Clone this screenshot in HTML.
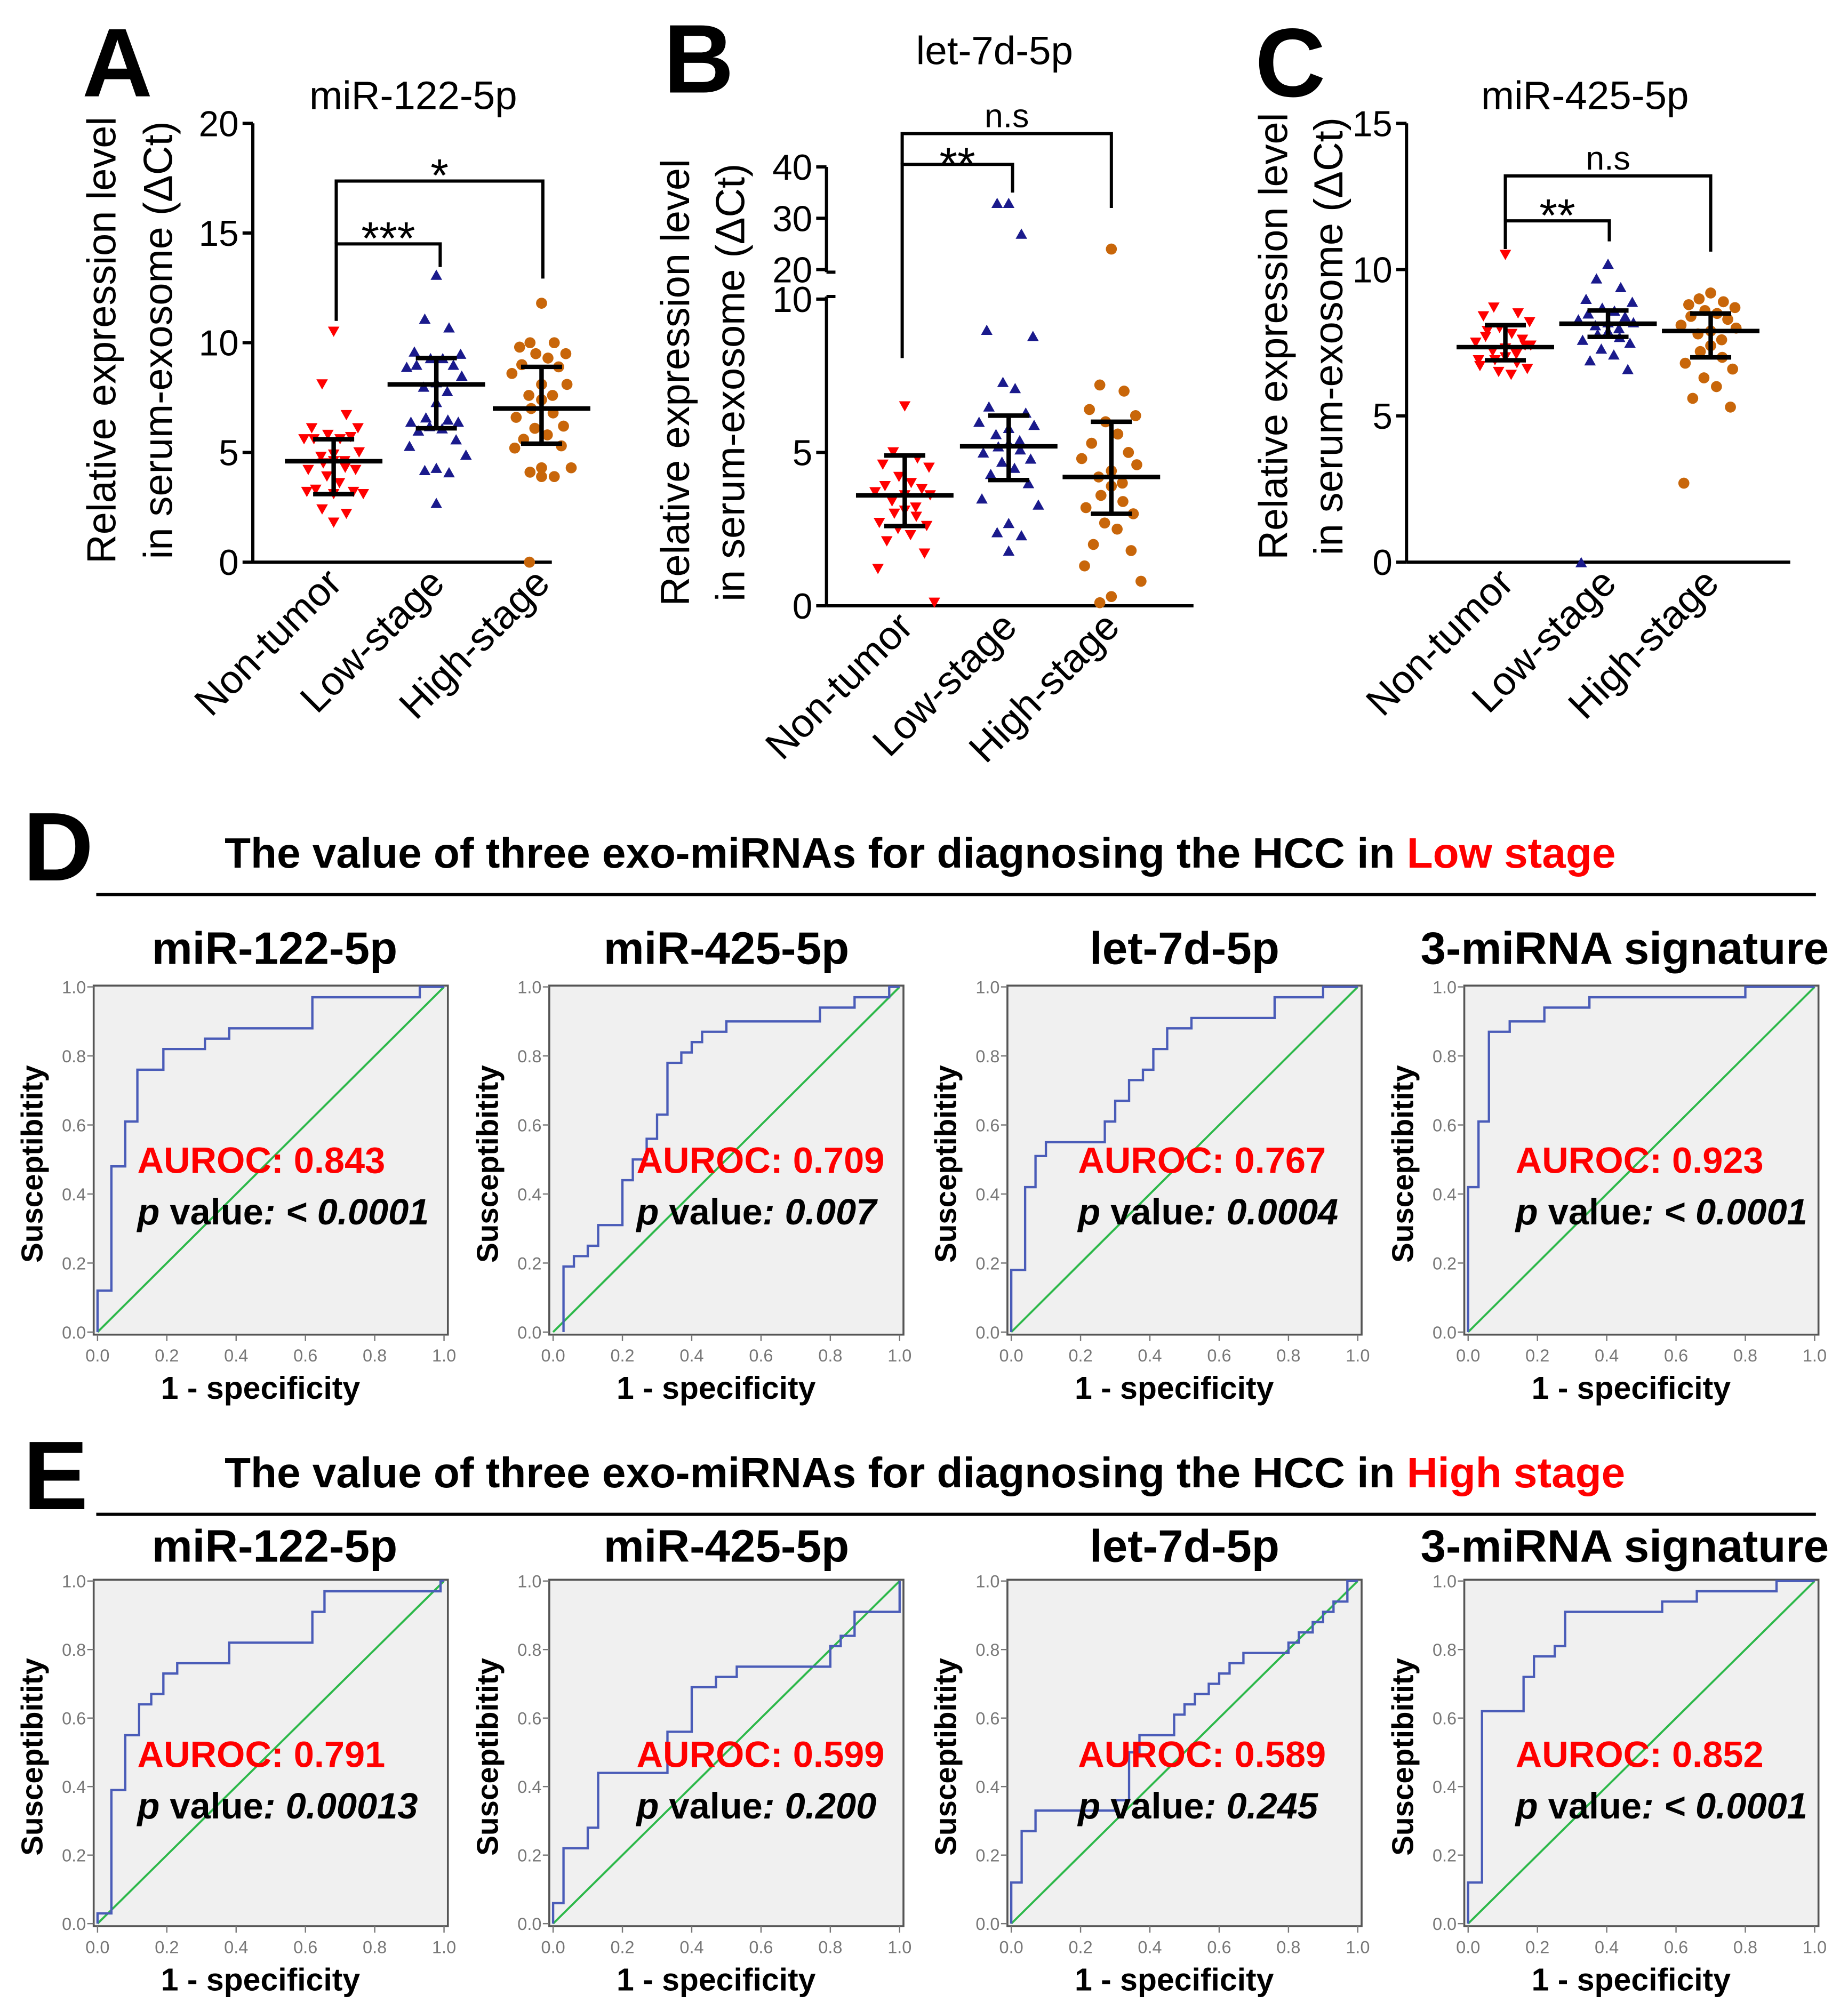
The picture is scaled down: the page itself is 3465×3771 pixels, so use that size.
<!DOCTYPE html>
<html><head><meta charset="utf-8">
<style>
html,body{margin:0;padding:0;background:#fff;}
svg{display:block;font-family:"Liberation Sans",Arial,sans-serif;}
</style></head>
<body>
<svg id="fig" width="3465" height="3771" viewBox="0 0 1440 1567" xmlns="http://www.w3.org/2000/svg">
<rect width="1440" height="1567" fill="#fff"/>
</svg>
<script>
// ---------- scatter data ----------
const groups = ['Non-tumor','Low-stage','High-stage'];
const aNon = [10.5,8.1,6.7,6.1,6.1,5.8,5.6,5.6,5.7,5.6,5.0,4.9,4.8,4.6,4.6,4.5,4.3,4.2,4.2,3.9,3.6,3.3,3.2,3.2,3.1,3.1,2.4,2.2,1.8];
const aLow = [13.1,11.1,10.7,9.6,9.5,9.3,9.3,9.0,9.0,8.9,8.5,8.2,8.0,7.8,7.3,6.6,6.5,6.4,6.4,6.2,6.1,6.0,5.6,5.3,4.9,4.3,4.2,4.1,2.7];
const aHigh = [11.8,10.0,10.0,9.8,9.5,9.5,9.3,9.0,8.9,8.6,8.1,8.1,7.6,7.6,7.4,7.0,6.8,6.6,6.2,6.1,5.8,5.6,5.3,5.2,4.3,4.3,4.1,3.9,3.9,0];
const aMean = [4.6,8.1,7.0];
const aLo = [3.1,6.1,5.4];
const aHi = [5.6,9.3,8.9];
const bNon = [6.5,5.0,4.8,4.6,4.5,4.2,4.0,3.9,3.8,3.7,3.6,3.6,3.4,3.2,3.1,3.0,2.9,2.7,2.6,2.5,2.3,2.1,1.7,1.2,0.1];
const bLow = [33,33,27,9.0,8.8,7.3,7.1,6.5,6.3,6.0,5.9,5.8,5.6,5.4,5.3,5.2,5.1,5.0,4.8,4.7,4.5,4.3,4.0,3.5,3.3,2.7,2.4,2.3,1.8];
const bHigh = [24,7.2,7.0,6.4,6.2,6.0,5.6,5.3,5.0,4.8,4.6,4.4,4.2,4.0,3.9,3.6,3.4,3.2,3.0,2.7,2.5,2.0,1.8,1.3,0.8,0.3,0.1];
const bMean = [3.6,5.2,4.2];
const bLo = [2.6,4.1,3.0];
const bHi = [4.9,6.2,6.0];
const cNon = [10.5,8.7,8.5,8.4,8.2,8.0,7.8,7.7,7.6,7.5,7.4,7.3,7.2,7.1,7.0,6.9,6.8,6.7,6.6,6.5,6.4,7.9,7.4,6.9];
const cLow = [10.2,9.7,9.4,9.0,8.9,8.7,8.6,8.5,8.4,8.3,8.2,8.2,8.1,8.0,7.9,7.8,7.7,7.6,7.5,7.3,7.1,6.9,6.6,0];
const cHigh = [9.2,9.0,8.9,8.8,8.7,8.6,8.5,8.4,8.3,8.1,8.0,7.9,7.8,7.6,7.4,7.2,7.0,6.8,6.6,6.3,6.0,5.6,5.3,2.7];
const cMean = [7.35,8.15,7.9];
const cLo = [6.9,7.7,7.0];
const cHi = [8.1,8.6,8.5];
const aTicks = [0,5,10,15,20];
const bTicksLow = [0,5,10];
const bTicksHigh = [20,30,40];
const cTicks = [0,5,10,15];

// ---------- ROC data ----------
const rocTitles = ['miR-122-5p','miR-425-5p','let-7d-5p','3-miRNA signature'];
const aurocLow = ['0.843','0.709','0.767','0.923'];
const pLow = ['< 0.0001','0.007','0.0004','< 0.0001'];
const aurocHigh = ['0.791','0.599','0.589','0.852'];
const pHigh = ['0.00013','0.200','0.245','< 0.0001'];
const rocTicks = ['0.0','0.2','0.4','0.6','0.8','1.0'];
const d1x=[0,0,0.04,0.04,0.08,0.08,0.115,0.115,0.19,0.19,0.31,0.31,0.38,0.38,0.62,0.62,0.93,0.93,1];
const d1y=[0,0.12,0.12,0.48,0.48,0.61,0.61,0.76,0.76,0.82,0.82,0.85,0.85,0.88,0.88,0.97,0.97,1,1];
const d2x=[0.03,0.03,0.06,0.06,0.1,0.1,0.13,0.13,0.2,0.2,0.23,0.23,0.27,0.27,0.3,0.3,0.33,0.33,0.37,0.37,0.4,0.4,0.43,0.43,0.5,0.5,0.77,0.77,0.87,0.87,0.97,0.97,1];
const d2y=[0,0.19,0.19,0.22,0.22,0.25,0.25,0.31,0.31,0.44,0.44,0.5,0.5,0.56,0.56,0.63,0.63,0.78,0.78,0.81,0.81,0.84,0.84,0.87,0.87,0.9,0.9,0.94,0.94,0.97,0.97,1,1];
const d3x=[0,0,0.04,0.04,0.07,0.07,0.1,0.1,0.27,0.27,0.3,0.3,0.34,0.34,0.38,0.38,0.41,0.41,0.45,0.45,0.52,0.52,0.76,0.76,0.9,0.9,1];
const d3y=[0,0.18,0.18,0.42,0.42,0.51,0.51,0.55,0.55,0.61,0.61,0.67,0.67,0.73,0.73,0.76,0.76,0.82,0.82,0.88,0.88,0.91,0.91,0.97,0.97,1,1];
const d4x=[0,0,0.03,0.03,0.06,0.06,0.12,0.12,0.22,0.22,0.35,0.35,0.8,0.8,1];
const d4y=[0,0.42,0.42,0.61,0.61,0.87,0.87,0.9,0.9,0.94,0.94,0.97,0.97,1,1];
const e1x=[0,0,0.04,0.04,0.08,0.08,0.12,0.12,0.155,0.155,0.19,0.19,0.23,0.23,0.38,0.38,0.62,0.62,0.655,0.655,0.99,0.99,1];
const e1y=[0,0.03,0.03,0.39,0.39,0.55,0.55,0.64,0.64,0.67,0.67,0.73,0.73,0.76,0.76,0.82,0.82,0.91,0.91,0.97,0.97,1,1];
const e2x=[0,0,0.03,0.03,0.1,0.1,0.13,0.13,0.33,0.33,0.4,0.4,0.47,0.47,0.53,0.53,0.8,0.8,0.83,0.83,0.87,0.87,1,1];
const e2y=[0,0.06,0.06,0.22,0.22,0.28,0.28,0.44,0.44,0.56,0.56,0.69,0.69,0.72,0.72,0.75,0.75,0.81,0.81,0.84,0.84,0.91,0.91,1];
const e3x=[0,0,0.03,0.03,0.07,0.07,0.3,0.3,0.34,0.34,0.37,0.37,0.47,0.47,0.5,0.5,0.53,0.53,0.57,0.57,0.6,0.6,0.63,0.63,0.67,0.67,0.8,0.8,0.83,0.83,0.87,0.87,0.9,0.9,0.93,0.93,0.97,0.97,1];
const e3y=[0,0.12,0.12,0.27,0.27,0.33,0.33,0.36,0.36,0.5,0.5,0.55,0.55,0.61,0.61,0.64,0.64,0.67,0.67,0.7,0.7,0.73,0.73,0.76,0.76,0.79,0.79,0.82,0.82,0.85,0.85,0.88,0.88,0.91,0.91,0.94,0.94,1,1];
const e4x=[0,0,0.04,0.04,0.16,0.16,0.19,0.19,0.25,0.25,0.28,0.28,0.56,0.56,0.66,0.66,0.89,0.89,1];
const e4y=[0,0.12,0.12,0.62,0.62,0.72,0.72,0.78,0.78,0.81,0.81,0.91,0.91,0.94,0.94,0.97,0.97,1,1];

const NS='http://www.w3.org/2000/svg';
const svg=document.getElementById('fig');
function mk(tag,attrs,parent,text){const e=document.createElementNS(NS,tag);for(const k in attrs)e.setAttribute(k,attrs[k]);if(text!==undefined)e.textContent=text;(parent||svg).appendChild(e);return e;}
function line(x1,y1,x2,y2,st,sw,p){return mk('line',{x1,y1,x2,y2,stroke:st,'stroke-width':sw},p);}

// ---------- scatter panel ----------
const colors=['#ff0000','#1a1a8c','#c8660a'];
const jit=[0,-9,9,-18,18,-5,5,-14,14,-22,22,0,-9,9];
function scatter(cfg){
  const g=mk('g',{});
  
  
  const y=cfg.y;
  const ax=line(cfg.ax,cfg.top,cfg.ax,cfg.bottom,'#000',2.5,g);
  if(cfg.broken){
    ax.setAttribute('y2',cfg.breakHi);
    line(cfg.ax,cfg.breakLo,cfg.ax,cfg.bottom,'#000',2.5,g);
    line(cfg.ax,cfg.breakHi,cfg.ax+7,cfg.breakHi,'#000',2.5,g);
    line(cfg.ax,cfg.breakLo,cfg.ax+7,cfg.breakLo,'#000',2.5,g);
  }
  line(cfg.ax,cfg.bottom,cfg.axEnd,cfg.bottom,'#000',2.5,g);
  cfg.ticks.forEach(t=>{const yy=y(t);line(cfg.ax-8,yy,cfg.ax,yy,'#000',2.5,g);
    const tx=mk('text',{x:cfg.ax-11,y:yy+10,'font-size':28,'text-anchor':'end'},g,String(t));
    });
  const tt=mk('text',{x:cfg.titleX,y:cfg.titleY,'font-size':31,'text-anchor':'middle'},g,cfg.title);
  
  const pl=mk('text',{x:cfg.letterX,y:cfg.letterY,'font-size':76,'font-weight':'bold'},g,cfg.letter);
  
  const cy=cfg.ytCenter;
  const y1=mk('text',{x:0,y:0,'font-size':31.5,'text-anchor':'middle',transform:`translate(${cfg.yt1},${cy}) rotate(-90)`},g,'Relative expression level');
  
  const y2=mk('text',{x:0,y:0,'font-size':31.5,'text-anchor':'middle',transform:`translate(${cfg.yt2},${cy}) rotate(-90)`},g,'in serum-exosome (ΔCt)');
  
  cfg.data.forEach((arr,gi)=>{
    const gx=cfg.gx[gi];
    const c=colors[gi];
    const cl=mk('text',{x:0,y:0,'font-size':31,'text-anchor':'end',transform:`translate(${gx+8},${cfg.bottom+18}) rotate(-45)`},g,groups[gi]);
    
    arr.forEach((v,i)=>{
      const px=gx+jit[i%jit.length]*(0.9+((i*7)%5)*0.05);
      const py=y(v);
      let p;
      if(gi===0) p=mk('polygon',{points:`${px-4.5},${py-4} ${px+4.5},${py-4} ${px},${py+4}`,fill:c},g);
      else if(gi===1) p=mk('polygon',{points:`${px-4.5},${py+4} ${px+4.5},${py+4} ${px},${py-4}`,fill:c},g);
      else p=mk('circle',{cx:px,cy:py,r:4.3,fill:c},g);
      
      
    });
    const m=y(cfg.mean[gi]),lo=y(cfg.lo[gi]),hi=y(cfg.hi[gi]);
    const mb=line(gx-38,m,gx+38,m,'#000',3.5,g);
    
    line(gx,lo,gx,hi,'#000',3.5,g);
    line(gx-16,lo,gx+16,lo,'#000',3.5,g);
    line(gx-16,hi,gx+16,hi,'#000',3.5,g);
  });
  cfg.brackets.forEach(b=>{
    mk('polyline',{points:`${b.x1},${b.y1} ${b.x1},${b.yb} ${b.x2},${b.yb} ${b.x2},${b.y2}`,fill:'none',stroke:'#000','stroke-width':2.5},g);
    const st=mk('text',{x:(b.x1+b.x2)/2,y:b.yb+(b.dy||8),'font-size':b.fs||36,'text-anchor':'middle'},g,b.label);
    
  });
}
const yA=v=>438-v*(342/20);
scatter({name:'panel-a-scatter',letter:'A',letterX:64,letterY:75,title:'miR-122-5p',titleX:322,titleY:85,
  ax:197,axEnd:430,top:96,bottom:438,y:yA,ticks:aTicks,yt1:90,yt2:134,ytCenter:265,
  gx:[260,340,422],data:[aNon,aLow,aHigh],mean:aMean,lo:aLo,hi:aHi,
  brackets:[{x1:262,x2:343,y1:250,y2:208,yb:190,label:'***',dy:8},{x1:262,x2:423,y1:190,y2:217,yb:141,label:'*',dy:8}]});
const yB=v=> v<=10 ? 472-v*23.9 : 210-(v-20)*4;
scatter({name:'panel-b-scatter',letter:'B',letterX:517,letterY:72,title:'let-7d-5p',titleX:775,titleY:50,
  ax:644,axEnd:930,top:130,bottom:472,y:yB,ticks:bTicksLow.concat(bTicksHigh),broken:true,breakHi:212,breakLo:231,
  yt1:537,yt2:580,ytCenter:298,
  gx:[705,786,866],data:[bNon,bLow,bHigh],mean:bMean,lo:bLo,hi:bHi,
  brackets:[{x1:703,x2:789,y1:279,y2:150,yb:128,label:'**',dy:12},{x1:703,x2:866,y1:128,y2:162,yb:104,label:'n.s',fs:26,dy:-5}]});
const yC=v=>438-v*(342/15);
scatter({name:'panel-c-scatter',letter:'C',letterX:978,letterY:75,title:'miR-425-5p',titleX:1235,titleY:85,
  ax:1096,axEnd:1395,top:96,bottom:438,y:yC,ticks:cTicks,yt1:1003,yt2:1046,ytCenter:262,
  gx:[1173,1253,1333],data:[cNon,cLow,cHigh],mean:cMean,lo:cLo,hi:cHi,
  brackets:[{x1:1173,x2:1254,y1:194,y2:188,yb:172,label:'**',dy:8},{x1:1173,x2:1333,y1:172,y2:196,yb:137,label:'n.s',fs:26,dy:-5}]});

// ---------- ROC section ----------
function section(letter,ly,hy,lineY,word){
  const l=mk('text',{x:18,y:ly,'font-size':76,'font-weight':'bold'},svg,letter);
  
  const h=mk('text',{x:175,y:hy,'font-size':33.3,'font-weight':'bold'},svg);
  
  mk('tspan',{},h,'The value of three exo-miRNAs for diagnosing the HCC in ');
  mk('tspan',{fill:'#ff0000'},h,word);
  const hl=line(75,lineY,1415,lineY,'#000',2.5);
  
}
section('D',686,676,697,'Low stage');
section('E',1176,1159,1180,'High stage');

const lefts=[73,428,785,1141];
const aurocOff=[34,68,55,40];
const titleOff=[3,0,0,-13];
function roc(col,top,bottom,xs,ys,title,auc,pv,titleY){
  const L=lefts[col],R=L+276;
  const g=mk('g',{});
  
  
  const x0=L+3,x1=R-3,y0=bottom-2,y1=top+1;
  const sx=v=>x0+v*(x1-x0), sy=v=>y0-v*(y0-y1);
  mk('rect',{x:L,y:top,width:R-L,height:bottom-top,fill:'#f0f0f0',stroke:'#555','stroke-width':1.5},g);
  rocTicks.forEach(t=>{const v=parseFloat(t);
    line(L-5,sy(v),L,sy(v),'#777',1,g);
    line(sx(v),bottom,sx(v),bottom+5,'#777',1,g);
    const a=mk('text',{x:L-6,y:sy(v)+5,'font-size':13.5,fill:'#777','text-anchor':'end'},g,t);
    
    const b=mk('text',{x:sx(v),y:bottom+21,'font-size':13.5,fill:'#777','text-anchor':'middle'},g,t);
    
  });
  const ref=line(sx(0),sy(0),sx(1),sy(1),'#2db84a',1.6,g);
  
  const pts=xs.map((x,i)=>sx(x)+','+sy(ys[i])).join(' ');
  const c=mk('polyline',{points:pts,fill:'none',stroke:'#4a5cb8','stroke-width':1.8},g);
  
  const t=mk('text',{x:(L+R)/2+titleOff[col],y:titleY,'font-size':35.5,'font-weight':'bold','text-anchor':'middle'},g,title);
  
  const yl=mk('text',{x:0,y:0,'font-size':23.5,'font-weight':'bold','text-anchor':'middle',transform:`translate(${L-40},${(top+bottom)/2+3}) rotate(-90)`},g,'Susceptibitity');
  
  const xl=mk('text',{x:(L+R)/2-8,y:bottom+50,'font-size':24.5,'font-weight':'bold','text-anchor':'middle'},g,'1 - specificity');
  
  const ax=L+aurocOff[col], ay=top+146;
  const au=mk('text',{x:ax,y:ay,'font-size':28.5,'font-weight':'bold',fill:'#ff0000'},g,'AUROC: '+auc);
  
  const p=mk('text',{x:ax,y:ay+40,'font-size':28.5,'font-weight':'bold'},g);
  
  mk('tspan',{'font-style':'italic'},p,'p');
  mk('tspan',{},p,' value');
  mk('tspan',{'font-style':'italic'},p,': '+pv);
}
const lowX=[d1x,d2x,d3x,d4x],lowY=[d1y,d2y,d3y,d4y],highX=[e1x,e2x,e3x,e4x],highY=[e1y,e2y,e3y,e4y];
for(let i=0;i<4;i++){
  roc(i,768,1040,lowX[i],lowY[i],rocTitles[i],aurocLow[i],pLow[i],751);
  roc(i,1231,1501,highX[i],highY[i],rocTitles[i],aurocHigh[i],pHigh[i],1217);
}
</script>
</body></html>
